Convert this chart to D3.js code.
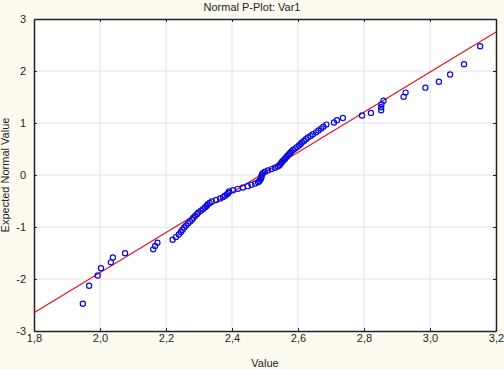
<!DOCTYPE html>
<html>
<head>
<meta charset="utf-8">
<script src="https://cdn.jsdelivr.net/npm/d3@7"></script>
<style>
  body { margin: 0; background: #fdfbf0; }
  text { font-family: "Liberation Sans", Arial, sans-serif; font-size: 11px; fill: #222; }
</style>
</head>
<body>
<div id="chart"></div>
<script>
const values = [
  1.948, 1.967, 1.993, 2.003, 2.033, 2.039, 2.076, 2.161, 2.167, 2.174,
  2.220, 2.230, 2.239, 2.245, 2.250, 2.255, 2.261, 2.267, 2.273, 2.279,
  2.283, 2.288, 2.294, 2.298, 2.306, 2.312, 2.318, 2.323, 2.326, 2.332,
  2.339, 2.352, 2.364, 2.373, 2.379, 2.385, 2.389, 2.391, 2.403, 2.418,
  2.433, 2.448, 2.459, 2.470, 2.479, 2.483, 2.486, 2.488, 2.489, 2.490,
  2.491, 2.493, 2.500, 2.509, 2.520, 2.530, 2.539, 2.544, 2.547, 2.550,
  2.553, 2.558, 2.561, 2.565, 2.568, 2.573, 2.576, 2.580, 2.585, 2.591,
  2.597, 2.603, 2.608, 2.612, 2.618, 2.624, 2.630, 2.638, 2.645, 2.655,
  2.662, 2.670, 2.677, 2.686, 2.709, 2.718, 2.736, 2.794, 2.821, 2.852,
  2.852, 2.853, 2.859, 2.920, 2.926, 2.986, 3.027, 3.061, 3.103, 3.152
];

// Expected normal values for each rank
const expected = [
  -2.476, -2.129, -1.933, -1.792, -1.680, -1.585, -1.503, -1.430, -1.363, -1.302,
  -1.246, -1.194, -1.145, -1.097, -1.053, -1.010, -0.969, -0.930, -0.892, -0.856,
  -0.820, -0.786, -0.752, -0.720, -0.687, -0.656, -0.626, -0.596, -0.566, -0.537,
  -0.508, -0.480, -0.452, -0.425, -0.398, -0.371, -0.344, -0.318, -0.292, -0.266,
  -0.240, -0.214, -0.189, -0.163, -0.138, -0.113, -0.088, -0.063, -0.037, -0.012,
  0.012, 0.037, 0.063, 0.088, 0.113, 0.138, 0.163, 0.189, 0.214, 0.240,
  0.266, 0.292, 0.318, 0.344, 0.371, 0.398, 0.425, 0.452, 0.480, 0.508,
  0.537, 0.566, 0.596, 0.626, 0.656, 0.687, 0.720, 0.752, 0.786, 0.820,
  0.856, 0.892, 0.930, 0.969, 1.010, 1.053, 1.097, 1.145, 1.194, 1.246,
  1.302, 1.363, 1.430, 1.503, 1.585, 1.680, 1.792, 1.933, 2.129, 2.476
];

// Fitted normal line (mean, sd)
const fitMean = 2.487;
const fitSd = 0.2593;

const xTicks = [1.8, 2.0, 2.2, 2.4, 2.6, 2.8, 3.0, 3.2];
const yTicks = [-3, -2, -1, 0, 1, 2, 3];

const w = 504, h = 369;
const mg = { left: 34, right: 8, top: 19, bottom: 38 };

const svg = d3.select("#chart").append("svg")
  .attr("width", w)
  .attr("height", h);

const x = d3.scaleLinear()
  .domain([1.8, 3.2])
  .range([mg.left, w - mg.right]);

const y = d3.scaleLinear()
  .domain([-3, 3])
  .range([h - mg.bottom, mg.top]);

const fmtX = (d) => d3.format(".1f")(d).replace(".", ",");
const fmtY = (d) => String(d);

// plot background
svg.append("rect")
  .attr("x", x(1.8))
  .attr("y", y(3))
  .attr("width", x(3.2) - x(1.8))
  .attr("height", y(-3) - y(3))
  .style("fill", "#ffffff");

// grid
svg.append("g").selectAll("line")
  .data(xTicks.slice(1, -1))
  .enter().append("line")
  .attr("x1", (d) => x(d)).attr("x2", (d) => x(d))
  .attr("y1", y(3)).attr("y2", y(-3))
  .style("stroke", "#e0e0ea");

svg.append("g").selectAll("line")
  .data(yTicks.slice(1, -1))
  .enter().append("line")
  .attr("y1", (d) => y(d)).attr("y2", (d) => y(d))
  .attr("x1", x(1.8)).attr("x2", x(3.2))
  .style("stroke", "#e0e0ea");

// axes
const tickIn = 3;
const xAxis = svg.append("g")
  .attr("transform", `translate(0, ${y(-3)})`)
  .call(d3.axisBottom(x).tickValues(xTicks).tickFormat(fmtX).tickSizeInner(-tickIn).tickSizeOuter(0).tickPadding(3));
const xAxisTop = svg.append("g")
  .attr("transform", `translate(0, ${y(3)})`)
  .call(d3.axisTop(x).tickValues(xTicks).tickFormat("").tickSizeInner(-tickIn).tickSizeOuter(0));
const yAxis = svg.append("g")
  .attr("transform", `translate(${x(1.8)}, 0)`)
  .call(d3.axisLeft(y).tickValues(yTicks).tickFormat(fmtY).tickSizeInner(-tickIn).tickSizeOuter(0).tickPadding(8));
const yAxisR = svg.append("g")
  .attr("transform", `translate(${x(3.2)}, 0)`)
  .call(d3.axisRight(y).tickValues(yTicks).tickFormat("").tickSizeInner(-tickIn).tickSizeOuter(0));

[xAxis, xAxisTop, yAxis, yAxisR].forEach((g) => {
  g.select(".domain").style("stroke", "#222").style("stroke-width", 1.5);
  g.selectAll(".tick line").style("stroke", "#222");
  g.selectAll("text")
    .style("font-family", "'Liberation Sans', Arial, sans-serif")
    .style("font-size", "11px")
    .style("fill", "#222");
});

// fitted line
const lineFn = d3.line()
  .x((d) => x(d))
  .y((d) => y((d - fitMean) / fitSd));

svg.append("path")
  .attr("d", lineFn([1.8, 3.2]))
  .style("fill", "none")
  .style("stroke", "#e0141e")
  .style("stroke-width", 1.2);

// points
svg.append("g").selectAll("circle")
  .data(values.map((v, i) => [v, expected[i]]))
  .enter().append("circle")
  .attr("cx", (d) => x(d[0]))
  .attr("cy", (d) => y(d[1]))
  .attr("r", 2.6)
  .style("fill", "none")
  .style("stroke", "#0a0ae0")
  .style("stroke-width", 1.2);

// titles
svg.append("text")
  .attr("x", w / 2)
  .attr("y", 11)
  .attr("text-anchor", "middle")
  .text("Normal P-Plot: Var1");

svg.append("text")
  .attr("x", (x(1.8) + x(3.2)) / 2)
  .attr("y", 367)
  .attr("text-anchor", "middle")
  .text("Value");

svg.append("text")
  .attr("transform", `translate(9, ${(y(3) + y(-3)) / 2}) rotate(-90)`)
  .attr("text-anchor", "middle")
  .text("Expected Normal Value");
</script>
</body>
</html>
